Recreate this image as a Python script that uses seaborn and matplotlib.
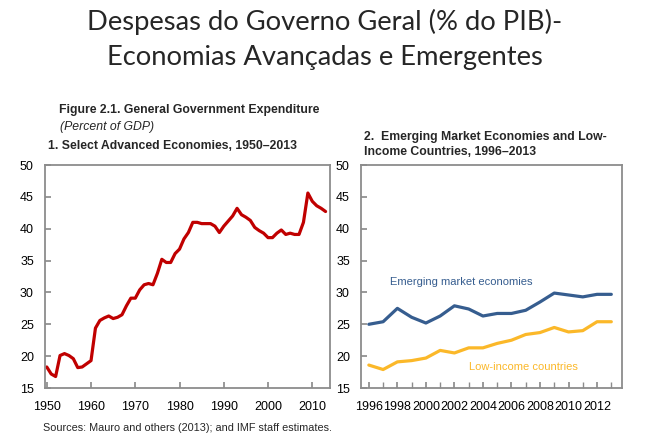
import numpy as np
import pandas as pd
import matplotlib.pyplot as plt
import seaborn as sns

# panel 1: select advanced economies
adv_years = list(range(1950, 2014))
adv_exp = [18.3, 17.2, 16.8, 20.1, 20.4, 20.1, 19.6, 18.2, 18.3, 18.8,
           19.3, 24.4, 25.6, 26.0, 26.3, 25.9, 26.1, 26.5, 27.9, 29.1,
           29.1, 30.4, 31.2, 31.4, 31.2, 33.0, 35.2, 34.7, 34.7, 36.1,
           36.8, 38.4, 39.4, 41.0, 41.0, 40.8, 40.8, 40.8, 40.4, 39.4,
           40.4, 41.2, 42.0, 43.2, 42.2, 41.8, 41.3, 40.2, 39.7, 39.3,
           38.6, 38.6, 39.3, 39.8, 39.1, 39.3, 39.1, 39.1, 41.0, 45.6,
           44.3, 43.6, 43.2, 42.7]

# panel 2: emerging markets and low-income countries
em_years = list(range(1996, 2014))
emerging = [25.0, 25.4, 27.5, 26.1, 25.2, 26.3, 27.9, 27.4, 26.3, 26.7,
            26.7, 27.2, 28.5, 29.9, 29.6, 29.3, 29.7, 29.7]
low_income = [18.6, 17.9, 19.1, 19.3, 19.7, 20.9, 20.5, 21.3, 21.3, 22.0,
              22.5, 23.4, 23.7, 24.5, 23.8, 24.0, 25.4, 25.4]

red = '#c00000'
blue = '#365d8f'
gold = '#fbb829'

sns.set_theme(style="white")
plt.rcParams['font.family'] = ['Liberation Sans', 'DejaVu Sans']

fig = plt.figure(figsize=(6.5, 4.4), dpi=100)
ax1 = fig.add_axes([45/650, 52/440, 285/650, 223/440])
ax2 = fig.add_axes([361/650, 52/440, 261/650, 223/440])

df1 = pd.DataFrame({'year': adv_years, 'value': adv_exp})
sns.lineplot(data=df1, x='year', y='value', ax=ax1, color=red, linewidth=2.3)

df2 = pd.DataFrame({'year': em_years, 'em': emerging, 'lic': low_income})
sns.lineplot(data=df2, x='year', y='em', ax=ax2, color=blue, linewidth=2.3)
sns.lineplot(data=df2, x='year', y='lic', ax=ax2, color=gold, linewidth=2.3)

ax1.set_xlim(1949.6, 2014)
ax1.set_xticks(range(1950, 2011, 10))
ax2.set_xlim(1995.45, 2013.75)
ax2.set_xticks(range(1996, 2013, 2))
ax2.set_xticks(range(1996, 2014), minor=True)

for ax in (ax1, ax2):
    ax.set_ylim(15, 50)
    ax.set_yticks(range(15, 51, 5))
    ax.set_xlabel('')
    ax.set_ylabel('')
    for s in ax.spines.values():
        s.set_color('#8c8c8c')
        s.set_linewidth(1.3)
    ax.tick_params(axis='both', which='both', direction='in', length=4,
                   color='#8c8c8c', labelsize=9, labelcolor='black')
    ax.tick_params(axis='x', which='both', bottom=True, pad=9)
    ax.tick_params(axis='y', left=True, pad=8)

ax2.text(1997.5, 31.2, 'Emerging market economies', color=blue, fontsize=8)
ax2.text(2003.0, 17.9, 'Low-income countries', color=gold, fontsize=8)

title_font = ['Lato', 'DejaVu Sans']
fig.text(0.5, 1 - 22/440, 'Despesas do Governo Geral (% do PIB)-', ha='center', va='center',
         fontsize=19.7, family=title_font)
fig.text(0.5, 1 - 57/440, 'Economias Avançadas e Emergentes', ha='center', va='center',
         fontsize=19.7, family=title_font)

fig.text(59/650, 1 - 110/440, 'Figure 2.1. General Government Expenditure', fontsize=8.8,
         fontweight='bold', va='center')
fig.text(60/650, 1 - 127/440, '(Percent of GDP)', fontsize=8.8, style='italic', va='center')
fig.text(48/650, 1 - 146/440, '1. Select Advanced Economies, 1950–2013', fontsize=8.8,
         fontweight='bold', va='center')
fig.text(364/650, 1 - 137/440, '2.  Emerging Market Economies and Low-', fontsize=8.8,
         fontweight='bold', va='center')
fig.text(364/650, 1 - 152/440, 'Income Countries, 1996–2013', fontsize=8.8,
         fontweight='bold', va='center')
fig.text(43/650, 1 - 428/440, 'Sources: Mauro and others (2013); and IMF staff estimates.',
         fontsize=7.8, va='center')

fig.savefig('out.png', dpi=100, facecolor='white')
